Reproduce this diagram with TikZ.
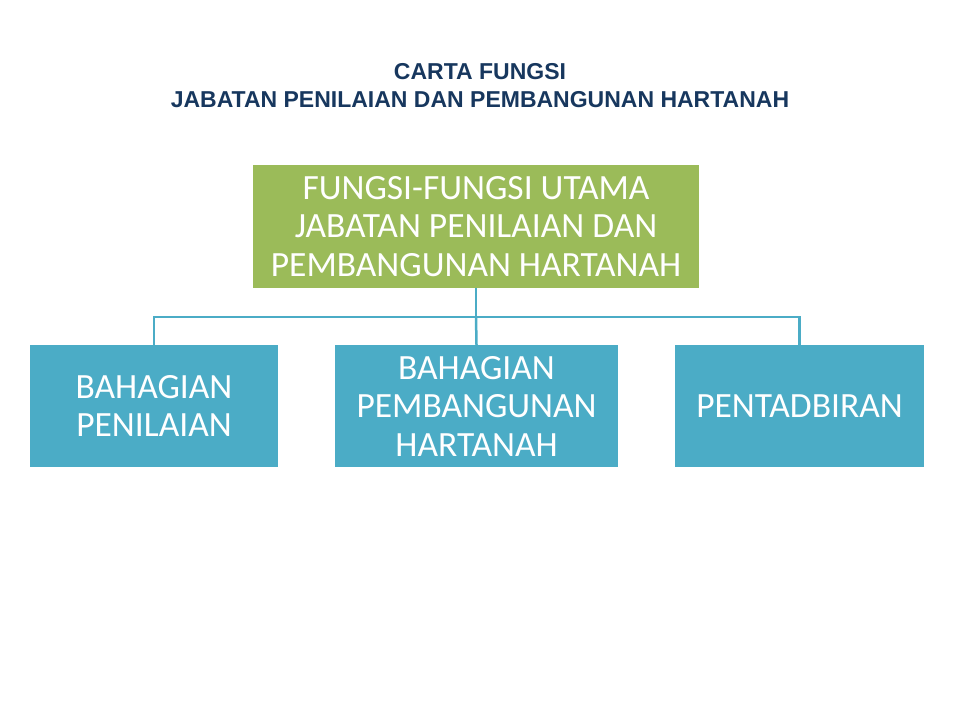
\documentclass[tikz,border=0pt]{standalone}
\usepackage{fontspec}
\setmainfont{Carlito}
\newfontfamily\arialf{Liberation Sans}
\definecolor{grn}{HTML}{9BBB59}
\definecolor{tl}{HTML}{4BACC6}
\definecolor{navy}{HTML}{17375E}
\begin{document}
\begin{tikzpicture}[x=1pt,y=-1pt,
 box/.style={fill=#1,draw=none,text=white,align=center,font=\fontsize{35.5}{38.5}\selectfont,inner sep=0},
 conn/.style={draw=tl,line width=2.5pt}]
\useasboundingbox (0,0) rectangle (960,720);
\node[font=\arialf\bfseries\fontsize{23}{28}\selectfont,text=navy,align=center] (title) at (480,86) {CARTA FUNGSI\\JABATAN PENILAIAN DAN PEMBANGUNAN HARTANAH};
\node[box=grn,minimum width=446,minimum height=123] (top) at (476,226.5) {FUNGSI-FUNGSI UTAMA\\JABATAN PENILAIAN DAN\\PEMBANGUNAN HARTANAH};
\node[box=tl,minimum width=248,minimum height=122] (a) at (154,406) {BAHAGIAN\\PENILAIAN};
\node[box=tl,minimum width=283,minimum height=122] (b) at (476.5,406) {BAHAGIAN\\PEMBANGUNAN\\HARTANAH};
\node[box=tl,minimum width=249,minimum height=122] (c) at (799.5,406) {PENTADBIRAN};
\coordinate (j) at (476,317);
\draw[conn] (top.south) -- (j);
\draw[conn] (j) -| (a.north);
\draw[conn] (j) -- (b.north);
\draw[conn] (j) -| (c.north);
\end{tikzpicture}
\end{document}
